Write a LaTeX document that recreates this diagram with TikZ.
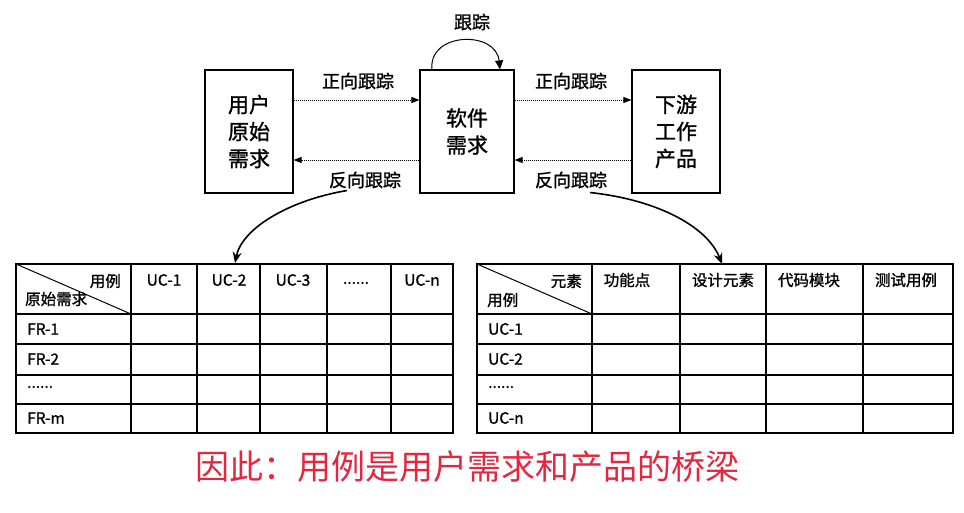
\documentclass[tikz,border=0pt]{standalone}
\usepackage{fontspec}
\setmainfont{Noto Sans CJK SC}
\newfontfamily\heavier{Noto Sans CJK SC}[FakeBold=1.2]
\usetikzlibrary{arrows.meta}
\definecolor{note}{RGB}{230,38,62}
\begin{document}
\begin{tikzpicture}[x=1pt,y=-1pt,
  box/.style={draw, line width=1.1pt, minimum height=123pt, inner sep=0pt,
    align=center, font=\heavier\fontsize{21}{27}\selectfont},
  lbl/.style={font=\heavier\fontsize{18}{22}\selectfont, inner sep=0pt},
  flow/.style={densely dotted, line width=1pt, -{Triangle[length=8pt,width=6pt]}},
  jump/.style={line width=1.6pt, -{Stealth[length=11pt,width=9pt]}},
  grid/.style={line width=1.3pt},
  cell/.style={font=\heavier\fontsize{15.5}{18}\selectfont, inner sep=0pt}]

\useasboundingbox (0,0) rectangle (964,512);

% the three artefacts
\node[box, minimum width=88pt] (ur) at (249,131.5) {用户\\原始\\需求};
\node[box, minimum width=94pt] (sw) at (467,131.5) {软件\\需求};
\node[box, minimum width=88pt] (dp) at (676,131.5) {下游\\工作\\产品};

% forward and backward tracing
\draw[flow] ([yshift=31.5pt]ur.east) -- ([yshift=31.5pt]sw.west);
\draw[flow] ([yshift=31.5pt]sw.east) -- ([yshift=31.5pt]dp.west);
\draw[flow] ([yshift=-28.5pt]sw.west) -- ([yshift=-28.5pt]ur.east);
\draw[flow] ([yshift=-28.5pt]dp.west) -- ([yshift=-28.5pt]sw.east);

\node[lbl] (f1) at (358,81) {正向跟踪};
\node[lbl] (f2) at (571,81) {正向跟踪};
\node[lbl] (b1) at (365,180) {反向跟踪};
\node[lbl] (b2) at (571,180) {反向跟踪};

% tracing inside the software requirements
\node[lbl] (tr) at (472,22) {跟踪};
\draw[line width=1pt, -{Triangle[length=9pt,width=8pt]}]
  ([xshift=-35pt]sw.north) .. controls (428,32) and (496,30) .. ([xshift=33pt]sw.north);

% requirements / use case matrix
\draw[grid] (16,264) rectangle (453,433);
\foreach \x in {131,197,260,327,391} \draw[grid] (\x,264) -- (\x,433);
\foreach \y in {314,344,375,404} \draw[grid] (16,\y) -- (453,\y);
\draw[line width=1pt] (16,264) -- (131,314);
\node[cell, anchor=east] (h1a) at (121,281) {用例};
\node[cell, anchor=west] (h1b) at (25,299) {原始需求};
\node[cell] (c11) at (164,280) {UC-1};
\node[cell] (c12) at (229,280) {UC-2};
\node[cell] (c13) at (293,280) {UC-3};
\node[cell] (c14) at (356,283) {......};
\node[cell] (c15) at (422,280) {UC-n};
\node[cell, anchor=west] (r11) at (27,329) {FR-1};
\node[cell, anchor=west] (r12) at (27,359) {FR-2};
\node[cell, anchor=west] (r13) at (27,387) {......};
\node[cell, anchor=west] (r14) at (27,418) {FR-m};
\coordinate (t1) at (235,263);

% use case / downstream element matrix
\draw[grid] (477,264) rectangle (953,433);
\foreach \x in {592,680,766,863} \draw[grid] (\x,264) -- (\x,433);
\foreach \y in {314,344,375,404} \draw[grid] (477,\y) -- (953,\y);
\draw[line width=1pt] (477,264) -- (592,314);
\node[cell, anchor=east] (h2a) at (582,281) {元素};
\node[cell, anchor=west] (h2b) at (487,300) {用例};
\node[cell] (c21) at (627,280) {功能点};
\node[cell] (c22) at (723,280) {设计元素};
\node[cell] (c23) at (809,280) {代码模块};
\node[cell] (c24) at (906,280) {测试用例};
\node[cell, anchor=west] (r21) at (488,329) {UC-1};
\node[cell, anchor=west] (r22) at (488,359) {UC-2};
\node[cell, anchor=west] (r23) at (488,387) {......};
\node[cell, anchor=west] (r24) at (488,418) {UC-n};
\coordinate (t2) at (722,264);

% links from the tracing labels to the matrices
\draw[jump] ([xshift=-18pt,yshift=-2pt]b1.south) .. controls (290,200) and (242,228) .. (t1);
\draw[jump] ([xshift=19pt,yshift=-4pt]b2.south) .. controls (660,200) and (708,228) .. (t2);

% conclusion
\node[font=\fontsize{34}{36}\selectfont, text=note, inner sep=0pt] (note) at (467,467)
  {因此：用例是用户需求和产品的桥梁};
\end{tikzpicture}
\end{document}
